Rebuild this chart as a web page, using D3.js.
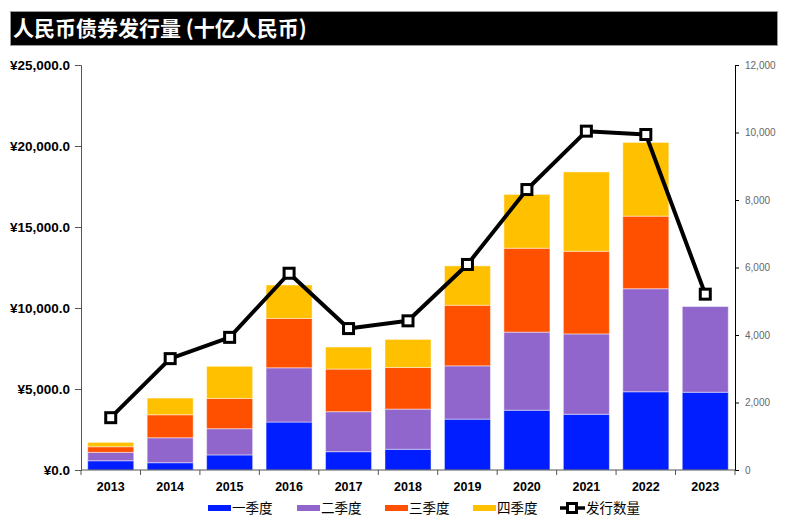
<!DOCTYPE html>
<html><head><meta charset="utf-8">
<script src="https://cdn.jsdelivr.net/npm/d3@7"></script>
<style>
html,body{margin:0;padding:0;background:#fff;}
svg{display:block;}
</style></head>
<body>
<svg id="chart" width="786" height="525"></svg>
<script>
const years = ["2013","2014","2015","2016","2017","2018","2019","2020","2021","2022","2023"];
const q1 = [570, 450, 930, 2960, 1130, 1280, 3140, 3690, 3440, 4830, 4800];
const q2 = [520, 1540, 1620, 3350, 2470, 2480, 3290, 4820, 4960, 6360, 5290];
const q3 = [345, 1420, 1870, 3050, 2630, 2570, 3740, 5180, 5100, 4480, 0];
const q4 = [270, 1030, 1980, 2060, 1360, 1730, 2430, 3320, 4900, 4550, 0];
const issuance = [1550, 3300, 3930, 5830, 4190, 4420, 6090, 8310, 10040, 9940, 5210];
const seriesNames = ["一季度","二季度","三季度","四季度"];
const lineName = "发行数量";
const leftTicks = [0, 5000, 10000, 15000, 20000, 25000];
const rightTicks = [0, 2000, 4000, 6000, 8000, 10000, 12000];
const colors = ["#001EFF", "#9066CC", "#FF5000", "#FFC000"];

(function () {
const svg = d3.select("#chart");
const pL = 81, pR = 735, pT = 65, pB = 470;

// Title bar
svg.append("rect").attr("x", 10.5).attr("y", 11.5).attr("width", 767).attr("height", 34)
  .attr("fill", "#000").attr("stroke", "#999").attr("stroke-width", 1);
svg.append("text").attr("x", 13).attr("y", 36)
  .attr("fill", "#fff").attr("font-family", "'Noto Sans CJK SC', sans-serif")
  .attr("font-weight", "bold").attr("font-size", 21)
  .text("人民币债券发行量 (十亿人民币)");

const x = d3.scaleBand().domain(years).range([pL, pR]).paddingInner(0.226).paddingOuter(0.113);
const y = d3.scaleLinear().domain([0, 25000]).range([pB, pT]);
const y2 = d3.scaleLinear().domain([0, 12000]).range([pB, pT]);

const table = years.map((yr, i) => ({year: yr, s0: q1[i], s1: q2[i], s2: q3[i], s3: q4[i]}));
const stacked = d3.stack().keys(["s0","s1","s2","s3"])(table);

const g = svg.append("g");
stacked.forEach((layer, li) => {
  g.append("g").selectAll("rect").data(layer.filter(d => d[1] - d[0] > 0)).join("rect")
    .attr("x", d => x(d.data.year))
    .attr("width", x.bandwidth())
    .attr("y", d => y(d[1]))
    .attr("height", d => y(d[0]) - y(d[1]))
    .attr("fill", colors[li])
    .attr("stroke", "rgba(255,255,255,0.45)")
    .attr("stroke-width", 1);
});

// Left axis
const axL = svg.append("g").attr("transform", `translate(${pL},0)`)
  .call(d3.axisLeft(y).tickValues(leftTicks).tickSize(6).tickPadding(5)
    .tickFormat(d => "¥" + d3.format(",.1f")(d)));
axL.select(".domain").attr("stroke", "#555");
axL.selectAll(".tick line").attr("stroke", "#555");
axL.selectAll("text").attr("font-family", "'Liberation Sans', Arial, sans-serif")
  .attr("font-weight", "bold").attr("font-size", 13.5).attr("fill", "#000");

// Right axis
const axR = svg.append("g").attr("transform", `translate(${pR},0)`)
  .call(d3.axisRight(y2).tickValues(rightTicks).tickSize(4).tickPadding(6)
    .tickFormat(d3.format(",")));
axR.select(".domain").attr("stroke", "#000");
axR.selectAll(".tick line").attr("stroke", "#000");
axR.selectAll("text").attr("font-family", "'Liberation Sans', Arial, sans-serif")
  .attr("font-size", 10).attr("fill", "#666");

// X axis
const axX = svg.append("g").attr("transform", `translate(0,${pB})`);
axX.append("line").attr("x1", pL).attr("x2", pR).attr("y1", 0).attr("y2", 0)
  .attr("stroke", "#555").attr("stroke-width", 1);
const bounds = years.map(yr => x(yr) - x.step() * x.paddingInner() / 2).concat([pR]);
axX.selectAll("line.tk").data(bounds).join("line").attr("class", "tk")
  .attr("x1", d => d).attr("x2", d => d).attr("y1", 0).attr("y2", 5)
  .attr("stroke", "#555");
axX.selectAll("text").data(years).join("text")
  .attr("x", d => x(d) + x.bandwidth() / 2).attr("y", 21)
  .attr("text-anchor", "middle")
  .attr("font-family", "'Liberation Sans', Arial, sans-serif")
  .attr("font-weight", "bold").attr("font-size", 12.5).attr("fill", "#000")
  .text(d => d);

// Line
const line = d3.line().x((d, i) => x(years[i]) + x.bandwidth() / 2).y(d => y2(d));
svg.append("path").datum(issuance).attr("d", line)
  .attr("fill", "none").attr("stroke", "#000").attr("stroke-width", 4)
  .attr("stroke-linejoin", "round");
svg.append("g").selectAll("rect").data(issuance).join("rect")
  .attr("x", (d, i) => x(years[i]) + x.bandwidth() / 2 - 5)
  .attr("y", d => y2(d) - 5)
  .attr("width", 10).attr("height", 10)
  .attr("fill", "#fff").attr("stroke", "#000").attr("stroke-width", 3);

// Legend
const legY = 508;
const legX = [208, 297, 385, 473];
const lg = svg.append("g");
seriesNames.forEach((name, i) => {
  lg.append("rect").attr("x", legX[i]).attr("y", legY - 3).attr("width", 23).attr("height", 6)
    .attr("fill", colors[i]);
  lg.append("text").attr("x", legX[i] + 24).attr("y", legY + 5)
    .attr("font-family", "'Noto Sans CJK SC', sans-serif").attr("font-size", 13.5).attr("fill", "#000")
    .text(name);
});
lg.append("line").attr("x1", 560).attr("x2", 585).attr("y1", legY).attr("y2", legY)
  .attr("stroke", "#000").attr("stroke-width", 3.5);
lg.append("rect").attr("x", 567.5).attr("y", legY - 4.5).attr("width", 9).attr("height", 9)
  .attr("fill", "#fff").attr("stroke", "#000").attr("stroke-width", 3);
lg.append("text").attr("x", 586).attr("y", legY + 5)
  .attr("font-family", "'Noto Sans CJK SC', sans-serif").attr("font-size", 13.5).attr("fill", "#000")
  .text(lineName);
})();
</script>
</body></html>
